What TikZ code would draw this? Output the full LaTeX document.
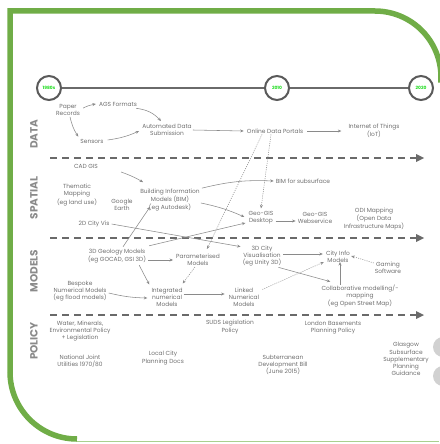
\documentclass[tikz,border=0pt]{standalone}
\usepackage{fontspec}
\setmainfont{Poppins}
\usetikzlibrary{arrows.meta,calc}
\definecolor{bgreen}{HTML}{70AD47}
\definecolor{lgreen}{HTML}{A9D08E}
\definecolor{txt}{HTML}{6E6E6E}
\definecolor{lne}{HTML}{8A8A8A}
\definecolor{dsh}{HTML}{6A6A6A}
\definecolor{yr}{HTML}{22DD22}
\begin{document}
\begin{tikzpicture}[x=1pt,y=-1pt,
  lbl/.style={align=center,text=txt,font=\fontsize{5.9}{7.1}\selectfont,inner sep=1pt},
  lane/.style={rotate=90,text=lne,font=\fontsize{10.5}{10.5}\selectfont\bfseries,inner sep=0pt},
  conn/.style={draw=lne,line width=0.55pt,-{Stealth[length=3.5pt,width=3pt]}},
  dconn/.style={conn,dash pattern=on 1pt off 1.2pt},
  sep/.style={draw=dsh,line width=1.4pt,dash pattern=on 7pt off 5pt},
  yearc/.style={circle,draw=dsh!85!black,line width=2pt,fill=white,minimum size=24pt,inner sep=0pt,text=yr,font=\fontsize{4.4}{5}\selectfont\bfseries}]
\useasboundingbox (0,0) rectangle (439,444);
% border
\draw[bgreen,line width=5.5pt] (10,372) -- (10,11) -- (375,11) arc[start angle=-90,end angle=5,radius=66];
\draw[bgreen,line width=5.5pt] (10,372) arc[start angle=180,end angle=90,radius=67];
\draw[lgreen,line width=1pt] (77,441.5) -- (439,441.5);
% right-edge decorations
\fill[black!18] (443,347) circle (10);
\fill[black!18] (443,376) circle (10);
% timeline
\coordinate (t1) at (49,88);
\coordinate (t2) at (277,88);
\coordinate (t3) at (421,88);
\draw[dsh,line width=2.5pt] (t1) -- (t2) -- (t3);
\node[yearc] (y1) at (t1) {1980s};
\node[yearc] (y2) at (t2) {2010};
\node[yearc] (y3) at (t3) {2020};
% separators
\foreach \yy/\nm in {158/s1,238/s2,315/s3}{
  \coordinate (\nm a) at (50,\yy);
  \coordinate (\nm b) at (417,\yy);
  \draw[sep] (\nm a) -- (\nm b);
  \fill[dsh] (\nm b) ++(-1,-4) -- ++(8,4) -- ++(-8,4) -- cycle;
}
% lane labels
\node[lane] (ldata) at (34,134) {DATA};
\node[lane] (lspatial) at (34,198) {SPATIAL};
\node[lane] (lmodels) at (34,271) {MODELS};
\node[lane] (lpolicy) at (34,341) {POLICY};
% nodes
\node[lbl] (paper) at (68,110) {Paper\\Records};
\node[lbl] (ags) at (118,104) {AGS Formats};
\node[lbl] (sensors) at (92,141) {Sensors};
\node[lbl] (auto) at (167,130) {Automated Data\\Submission};
\node[lbl] (online) at (275,131) {Online Data Portals};
\node[lbl] (iot) at (374,131) {Internet of Things\\(IoT)};
\node[lbl] (cadgis) at (86,166) {CAD GIS};
\node[lbl] (thematic) at (77,195) {Thematic\\Mapping\\(eg land use)};
\node[lbl] (google) at (122,205) {Google\\Earth};
\node[lbl] (bim) at (170,200) {Building Information\\Models (BIM)\\(eg Autodesk)};
\node[lbl] (bimsub) at (303,181) {BIM for subsurface};
\node[lbl] (city2d) at (94,224) {2D City Vis};
\node[lbl] (geodesk) at (261,218) {Geo-GIS\\Desktop};
\node[lbl] (geoweb) at (315,218) {Geo-GIS\\Webservice};
\node[lbl] (odi) at (374,219) {ODI Mapping\\(Open Data\\Infrastructure Maps)};
\node[lbl] (geo3d) at (117,256) {3D Geology Models\\(eg GOCAD, GSI 3D)};
\node[lbl] (param) at (198,260) {Parameterised\\Models};
\node[lbl] (city3d) at (262,256) {3D City\\Visualisation\\(eg Unity 3D)};
\node[lbl] (cityinfo) at (338,257) {City Info\\Models};
\node[lbl] (gaming) at (388,268) {Gaming\\Software};
\node[lbl] (bespoke) at (80,291) {Bespoke\\Numerical Models\\(eg flood models)};
\node[lbl] (integ) at (167,297) {Integrated\\numerical\\Models};
\node[lbl] (linked) at (244,297) {Linked\\Numerical\\Models};
\node[lbl] (collab) at (360,296) {Collaborative modelling/-\\mapping\\(eg Open Street Map)};
\node[lbl] (water) at (80,331) {Water, Minerals,\\Environmental Policy\\+ Legislation};
\node[lbl] (nju) at (80,361) {National Joint\\Utilities 1970/80};
\node[lbl] (local) at (163,358) {Local City\\Planning Docs};
\node[lbl] (suds) at (230,327) {SUDS Legislation\\Policy};
\node[lbl] (london) at (333,328) {London Basements\\Planning Policy};
\node[lbl] (subter) at (283,365) {Subterranean\\Development Bill\\(June 2015)};
\node[lbl] (glasgow) at (406,359) {Glasgow\\Subsurface\\Supplementary\\Planning\\Guidance};
% connectors
\draw[conn] ($(paper.east)+(2,-2)$) to[bend left=8] ($(ags.west)+(-2,0)$);
\draw[conn] ($(paper.south)+(2,0)$) to[bend right=10] ($(sensors.north west)+(-1,-1)$);
\draw[conn] ($(ags.south east)+(-2,1)$) to[bend left=20] ($(auto.north)+(-6,-2)$);
\draw[conn] ($(sensors.east)+(3,-1)$) to[bend right=8] ($(auto.west)+(-2,1)$);
\draw[conn] (auto.east) -- ($(online.west)+(-2,0)$);
\draw[conn] ($(online.east)+(3,0)$) -- ($(iot.west)+(-6,0)$);
\draw[conn] ($(cadgis.east)+(22,6)$) to[bend left=5] ($(bim.north west)+(4,-6)$);
\draw[conn] ($(bim.north east)+(1,0)$) to[bend left=8] ($(bimsub.west)+(-1,0)$);
\draw[conn] ($(bim.east)+(0,3)$) to[bend left=6] ($(geodesk.west)+(-3,-1)$);
\draw[conn] ($(geo3d.north east)+(2,-2)$) -- ($(geodesk.west)+(-2,5)$);
\draw[conn] ($(geo3d.north)+(6,-1)$) -- ($(bim.south)+(-20,-5)$);
\draw[conn] ($(city2d.east)+(1,0)$) -- ($(city3d.north west)+(-1,2)$);
\draw[conn] ($(geo3d.east)+(1,4)$) -- ($(param.west)+(-2,0)$);
\draw[conn] ($(geo3d.south east)+(-8,1)$) -- ($(integ.north west)+(-1,-2)$);
\draw[conn] ($(bespoke.east)+(1,2)$) to[bend right=6] ($(integ.west)+(-3,1)$);
\draw[conn] ($(integ.east)+(0,-3)$) -- ($(linked.west)+(-3,-3)$);
\draw[conn] ($(geodesk.east)+(1,3)$) -- ($(geoweb.west)+(-1,3)$);
\draw[conn] ($(city3d.east)+(1,-2)$) -- ($(cityinfo.west)+(-2,-3)$);
\draw[conn] ($(city3d.south east)+(-4,0)$) -- ($(collab.north west)+(10,-2)$);
\draw[conn] ($(collab.north)+(-20,1)$) -- ($(cityinfo.south)+(2,-2)$);
\draw[dconn] ($(online.south)+(-13,0)$) -- ($(param.north east)+(-14,-4)$);
\draw[dconn] ($(online.south)+(-4,0)$) -- ($(geodesk.north)+(0,-2)$);
\draw[dconn] ($(param.south)+(-3,0)$) -- ($(integ.north east)+(-1,-3)$);
\draw[dconn] ($(linked.north east)+(2,3)$) -- ($(cityinfo.south west)+(-1,-2)$);
\draw[dconn] ($(gaming.north west)+(0,2)$) -- ($(cityinfo.east)+(0,-1)$);
\end{tikzpicture}
\end{document}
